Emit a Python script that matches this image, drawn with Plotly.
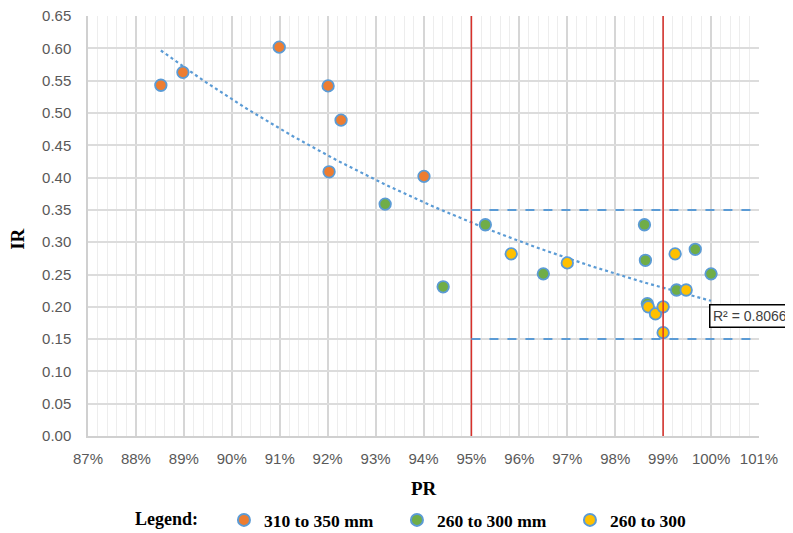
import numpy as np
import plotly.graph_objects as go

# Data (PR in %, IR)
orange_pr = [88.52, 88.98, 90.99, 92.01, 92.28, 92.03, 94.01]
orange_ir = [0.543, 0.563, 0.602, 0.542, 0.489, 0.409, 0.402]

green_pr = [93.20, 94.41, 95.29, 96.50, 98.61, 98.63, 99.67, 100.00, 99.28, 98.67]
green_ir = [0.359, 0.231, 0.327, 0.251, 0.327, 0.272, 0.289, 0.251, 0.226, 0.205]

yellow_pr = [95.83, 97.00, 99.25, 99.48, 98.69, 98.84, 99.00, 99.00]
yellow_ir = [0.282, 0.268, 0.282, 0.226, 0.200, 0.189, 0.200, 0.160]

series_names = ["310 to 350 mm", "260 to 300 mm", "260 to 300"]
series_colors = ["#ED7D31", "#70AD47", "#FFC000"]

red_lines = [95, 99]
band_levels = [0.35, 0.15]
band_x = [95, 101]
r2_text = "R² = 0.8066"

# exponential trendline fitted to all points
all_x = np.array(orange_pr + green_pr + yellow_pr) / 100.0
all_y = np.array(orange_ir + green_ir + yellow_ir)
b, ln_a = np.polyfit(all_x, np.log(all_y), 1)
tx = np.linspace(all_x.min(), all_x.max(), 100)
ty = np.exp(ln_a) * np.exp(b * tx)

fig = go.Figure()

fig.add_trace(go.Scatter(x=tx * 100, y=ty, mode="lines",
                         line=dict(color="#5B9BD5", width=2.2, dash="dot"),
                         showlegend=False, hoverinfo="skip"))

for pr, ir, name, col in zip([orange_pr, green_pr, yellow_pr],
                             [orange_ir, green_ir, yellow_ir],
                             series_names, series_colors):
    fig.add_trace(go.Scatter(x=pr, y=ir, mode="markers", name="<b>" + name + "</b>",
                             marker=dict(size=11.5, color=col,
                                         line=dict(color="#5B9BD5", width=1.8))))

for xv in red_lines:
    fig.add_shape(type="line", x0=xv, x1=xv, y0=0, y1=1, xref="x", yref="paper",
                  line=dict(color="#D9302A", width=1.5))
for yv in band_levels:
    fig.add_shape(type="line", x0=band_x[0], x1=band_x[1], y0=yv, y1=yv,
                  xref="x", yref="y", line=dict(color="#5B9BD5", width=2, dash="dash"))

fig.add_annotation(x=0.9255, y=0.186, xref="paper", yref="y", xanchor="left",
                   yanchor="middle", text=r2_text, showarrow=False,
                   font=dict(family="Liberation Sans", size=14, color="#404040"),
                   bordercolor="black", borderwidth=1.5, borderpad=2.5, bgcolor="white")

title_font = dict(family="Liberation Serif", size=19, color="black")
fig.add_annotation(x=0.5, y=0, xref="paper", yref="paper", yshift=-52,
                   xanchor="center", yanchor="middle",
                   text="<b>PR</b>", showarrow=False, font=title_font)
fig.add_annotation(x=0, y=0.467, xref="paper", yref="paper", xshift=-70,
                   xanchor="center", yanchor="middle",
                   text="<b>IR</b>", showarrow=False, font=title_font, textangle=-90)

axis_font = dict(family="Liberation Sans", size=15, color="#595959")
fig.update_layout(
    width=793, height=533,
    margin=dict(l=80, r=42, t=8, b=105, autoexpand=False),
    plot_bgcolor="white", paper_bgcolor="white",
    xaxis=dict(range=[87, 101], dtick=1, ticksuffix="%", tickformat="d",
               showgrid=True, gridcolor="#d6d6d6", gridwidth=1.5,
               minor=dict(dtick=0.2, showgrid=True, gridcolor="#ededed", gridwidth=1),
               showline=True, linecolor="#d0d0d0", linewidth=1.5,
               tickfont=axis_font, zeroline=False, ticks="", automargin=False,
               ticklabelstandoff=8, ticklabeloverflow="allow"),
    yaxis=dict(range=[0, 0.6502], dtick=0.05, tickformat=".2f",
               showgrid=True, gridcolor="#dcdcdc", gridwidth=1.5,
               showline=True, linecolor="#d0d0d0", linewidth=1.5,
               tickfont=axis_font, zeroline=False, ticks="", automargin=False,
               ticklabelstandoff=12, ticklabeloverflow="allow"),
    legend=dict(orientation="h", x=0.067, xanchor="left", y=-0.2, yanchor="middle",
                title=dict(text="<b>Legend:</b>    ", font=dict(family="Liberation Serif", size=18, color="black")),
                font=dict(family="Liberation Serif", size=17.5, color="black"),
                entrywidth=128, itemsizing="constant"),
)

fig.write_html("out.html")
